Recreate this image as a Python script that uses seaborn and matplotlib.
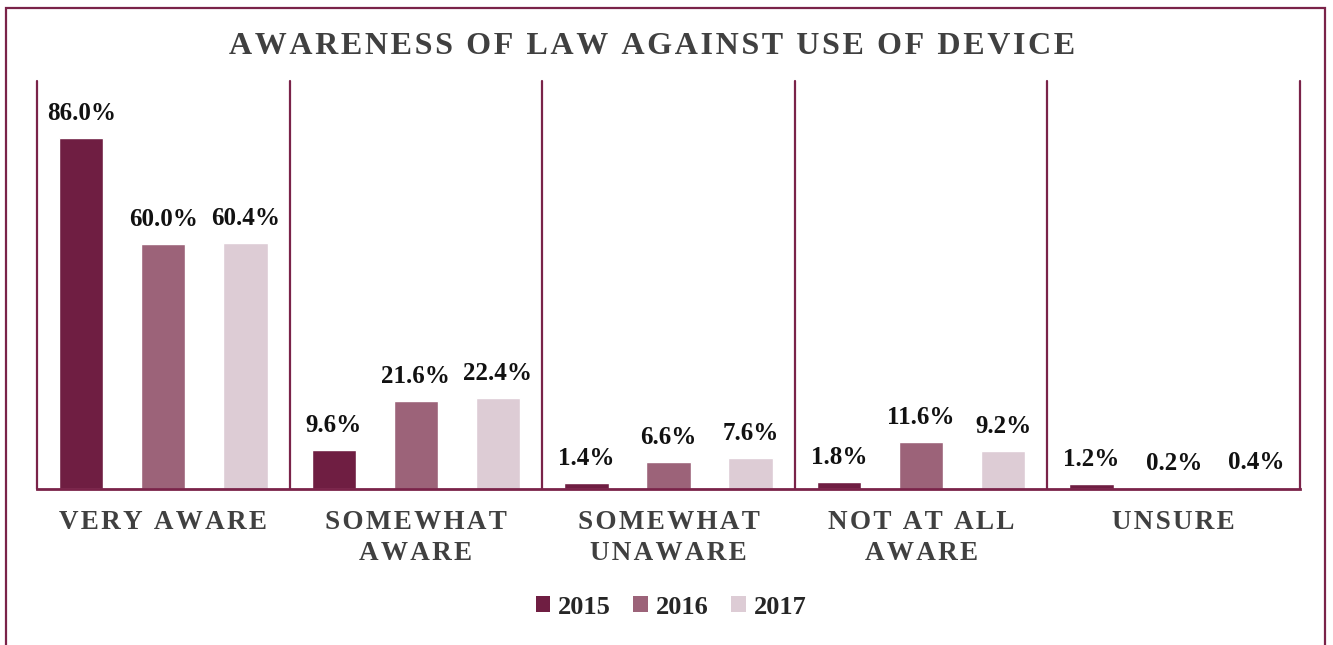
import matplotlib
matplotlib.use("Agg")
import matplotlib.pyplot as plt
from matplotlib.patches import Rectangle, Patch
import seaborn as sns
import pandas as pd

categories = ["VERY AWARE", "SOMEWHAT\nAWARE", "SOMEWHAT\nUNAWARE", "NOT AT ALL\nAWARE", "UNSURE"]
years = ["2015", "2016", "2017"]
values_2015 = [86.0, 9.6, 1.4, 1.8, 1.2]
values_2016 = [60.0, 21.6, 6.6, 11.6, 0.2]
values_2017 = [60.4, 22.4, 7.6, 9.2, 0.4]
title = "AWARENESS OF LAW AGAINST USE OF DEVICE"

colors = ["#6F1E42", "#9C6379", "#DDCCD5"]
edge = "#7A2349"
serif = ["Liberation Serif", "DejaVu Serif"]

sns.set_theme(style="white")
plt.rcParams["font.family"] = serif


def spaced(text, sep="\u200a"):
    return "\n".join(sep.join(line) for line in text.split("\n"))


df = pd.DataFrame({
    "category": categories * 3,
    "year": [y for y in years for _ in categories],
    "value": values_2015 + values_2016 + values_2017,
})

fig = plt.figure(figsize=(13.33, 6.45), dpi=100)
ax = fig.add_axes([37 / 1333, 1 - 489 / 645, (1300 - 37) / 1333, (489 - 81) / 645])

sns.barplot(data=df, x="category", y="value", hue="year", order=categories,
            hue_order=years, palette=colors, width=0.975, gap=0.46,
            saturation=1, ax=ax, legend=False)

ax.set_xlim(-0.5, len(categories) - 0.5)
ax.set_ylim(0, 100)
ax.set_yticks([])
ax.set_xlabel("")
ax.set_ylabel("")
for s in ["left", "right", "top"]:
    ax.spines[s].set_visible(False)
ax.spines["bottom"].set_color(edge)
ax.spines["bottom"].set_linewidth(2)

# category separators
for xb in [i - 0.5 for i in range(len(categories) + 1)]:
    ax.axvline(xb, color=edge, lw=1.6, zorder=0.5, clip_on=False)

ax.set_xticks(range(len(categories)))
ax.set_xticklabels([spaced(c) for c in categories], fontsize=19.5, fontweight="bold",
                   color="#404040", linespacing=1.33)
ax.tick_params(axis="x", length=0, pad=15)

for container, vals in zip(ax.containers, [values_2015, values_2016, values_2017]):
    for bar, v in zip(container, vals):
        ax.annotate(f"{v:.1f}%", (bar.get_x() + bar.get_width() / 2, bar.get_height()),
                    xytext=(0, 13), textcoords="offset points", ha="center",
                    va="baseline", fontsize=18, fontweight="bold", color="#111111")

fig.text(652 / 1333, 1 - 46 / 645, spaced(title, "\u200a"), ha="center", va="center",
         fontsize=23, fontweight="bold", color="#404040")

handles = [Patch(facecolor=c, edgecolor="none") for c in colors]
fig.legend(handles, years, loc="center", bbox_to_anchor=(671 / 1333, 1 - 607 / 645),
           ncol=3, frameon=False, prop={"family": serif, "weight": "bold", "size": 19},
           handlelength=0.55, handleheight=0.55, handletextpad=0.3, columnspacing=0.85)

fig.patches.append(Rectangle((6 / 1333, -0.05), (1325 - 6) / 1333, 1.05 - 8 / 645,
                             transform=fig.transFigure, fill=False, edgecolor=edge,
                             lw=1.6, zorder=10))

fig.savefig("out.png", dpi=100, facecolor="white")
